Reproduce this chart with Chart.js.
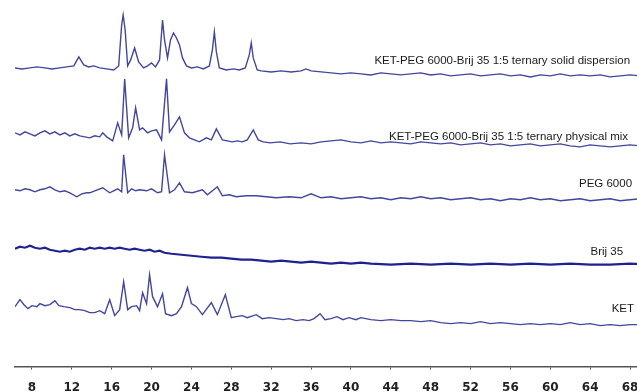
<!DOCTYPE html>
<html>
<head>
<meta charset="utf-8">
<script src="https://cdn.jsdelivr.net/npm/chart.js@4"></script>
<style>
  html, body { margin: 0; padding: 0; background: #fff; overflow: hidden; }
  #wrap { width: 637px; height: 392px; overflow: hidden; position: relative; }
  #box { width: 660px; height: 406px; position: absolute; left: 0; top: 0; }
</style>
</head>
<body>
<div id="wrap"><div id="box"><canvas id="xrd"></canvas></div></div>
<script>
// 2-theta tick labels
const xTicks = [8, 12, 16, 20, 24, 28, 32, 36, 40, 44, 48, 52, 56, 60, 64, 68];

const traceNames = [
    "KET-PEG 6000-Brij 35 1:5 ternary solid dispersion",
    "KET-PEG 6000-Brij 35 1:5 ternary physical mix",
    "PEG 6000",
    "Brij 35",
    "KET",
];

// vertical stacking offset of each pattern
const offsets = [299, 233, 177, 118, 60];

// [2theta, intensity above baseline]
const solidDispersion = [
    [6.3, 0], [7.0, -1], [7.8, 0], [8.5, 1], [9.3, 0], [10.0, -1], [10.8, 0], [11.5, 1], [12.2, 2], [12.7, 11],
    [13.2, 3], [13.7, 1], [14.2, 2], [14.8, 0], [15.5, -1], [16.2, -2], [16.7, 2], [17.0, 43], [17.15, 53], [17.35, 38],
    [17.6, 2], [17.9, 8], [18.3, 20], [18.7, 6], [19.2, 0], [19.6, 2], [20.0, 5], [20.4, 1], [20.8, 8], [21.1, 48],
    [21.3, 28], [21.6, 10], [21.9, 28], [22.2, 35], [22.5, 30], [22.8, 23], [23.1, 10], [23.5, 2], [24.0, 0], [24.6, 1],
    [25.2, -1], [25.8, 2], [26.1, 18], [26.3, 36], [26.5, 16], [26.8, 0], [27.5, -2], [28.2, -1], [28.8, -2], [29.4, 0],
    [29.8, 13], [30.0, 25], [30.2, 10], [30.6, -2], [31.0, -3], [32, -4], [33, -3], [34, -4], [35, -3], [35.5, -1],
    [36, -3], [37, -4], [38, -5], [39, -6], [40, -5], [41, -6], [42, -7], [43, -5], [44, -6], [45, -7],
    [46, -6], [47, -5], [48, -7], [49, -6], [50, -8], [51, -7], [52, -6], [53, -8], [54, -7], [55, -6],
    [56, -8], [57, -7], [58, -9], [59, -7], [60, -8], [61, -6], [62, -8], [63, -7], [64, -8], [65, -7],
    [66, -9], [67, -8], [68, -7], [69, -8], [70, -8],
];

const physicalMix = [
    [6.3, 1], [6.8, -1], [7.3, 2], [7.8, 0], [8.3, -2], [8.8, 1], [9.3, 3], [9.8, 0], [10.3, 2], [10.8, -1],
    [11.3, 1], [11.8, -2], [12.3, 0], [12.8, -2], [13.3, -3], [13.8, -4], [14.3, -2], [14.8, -3], [15.1, 1], [15.5, -3],
    [16.1, -7], [16.6, 11], [17.0, -1], [17.3, 55], [17.7, -4], [18.1, 6], [18.4, 26], [18.8, 4], [19.1, 6], [19.6, 1],
    [20.0, 3], [20.5, 4], [21.0, -6], [21.5, 55], [21.8, 2], [22.3, 9], [22.8, 17], [23.3, 1], [23.8, -4], [24.3, -6],
    [24.8, -8], [25.5, -4], [26.0, -6], [26.5, 5], [27.1, -6], [27.6, -7], [28.1, -8], [28.6, -7], [29.1, -8], [29.6, -6],
    [30.2, 4], [30.7, -6], [31.2, -8], [31.9, -9], [32.9, -8], [33.9, -10], [35, -9], [36, -10], [37, -8], [38, -7],
    [39, -6], [40, -8], [41, -9], [42, -7], [43, -9], [44, -8], [45, -9], [46, -10], [47, -8], [48, -9],
    [49, -10], [50, -9], [51, -11], [52, -10], [53, -9], [54, -11], [55, -10], [56, -12], [57, -11], [58, -10],
    [59, -12], [60, -11], [61, -10], [62, -12], [63, -13], [64, -11], [65, -12], [66, -13], [67, -12], [68, -11],
    [69, -12], [70, -12],
];

const peg6000 = [
    [6.3, 0], [6.8, -1], [7.3, 1], [7.8, 0], [8.3, -2], [8.8, 0], [9.3, 1], [9.8, 3], [10.3, 0], [10.8, -2],
    [11.3, -1], [11.8, -3], [12.5, -7], [13.0, -4], [13.5, -3], [13.8, -3], [14.3, -1], [15.1, 2], [15.8, -3], [16.2, -1],
    [16.6, 1], [17.0, -2], [17.2, 35], [17.6, -3], [18.0, 1], [18.4, -1], [18.8, 0], [19.5, -1], [20.0, 1], [20.6, -3],
    [21.0, -2], [21.3, 35], [21.8, -3], [22.3, 0], [22.8, 7], [23.3, -2], [24.1, -3], [25.1, 0], [25.6, -5], [26.6, 3],
    [27.1, -6], [27.8, -5], [28.5, -7], [29.5, -6], [30.5, -6], [31.5, -7], [32.5, -8], [33.8, -7], [35, -8], [36, -4],
    [37, -8], [38, -7], [39, -9], [40, -8], [41, -7], [42, -9], [43, -8], [44, -10], [45, -8], [46, -9],
    [47, -7], [48, -9], [49, -8], [50, -10], [51, -9], [52, -8], [53, -10], [54, -9], [55, -11], [56, -9],
    [57, -10], [58, -8], [59, -10], [60, -9], [61, -11], [62, -10], [63, -9], [64, -11], [65, -10], [66, -9],
    [67, -11], [68, -10], [69, -9], [70, -10],
];

const brij35 = [
    [6.3, 0], [6.8, 2], [7.3, 1], [7.8, 3], [8.3, 1], [8.8, 0], [9.3, 1], [9.8, -1], [10.3, -2], [10.8, -3],
    [11.3, -2], [11.8, -3], [12.3, -1], [12.8, 0], [13.3, -1], [13.8, 1], [14.3, 0], [14.8, 1], [15.3, 0], [15.8, 1],
    [16.3, 0], [16.8, 1], [17.3, 0], [17.8, -1], [18.3, 0], [18.8, -1], [19.3, -2], [19.8, -1], [20.3, -3], [20.8, -2],
    [21.3, -4], [22, -5], [23, -6], [24, -7], [25, -8], [26, -9], [27, -9], [28, -10], [29, -11], [30, -11],
    [31, -12], [32, -13], [33, -12], [34, -13], [35, -14], [36, -13], [37, -14], [38, -15], [39, -14], [40, -15],
    [41, -14], [42, -15], [44, -16], [46, -15], [48, -16], [50, -15], [52, -16], [54, -15], [56, -16], [58, -15],
    [60, -16], [62, -15], [64, -16], [66, -16], [68, -15], [70, -16],
];

const ket = [
    [6.3, 0], [6.8, 7], [7.2, 2], [7.6, -2], [8.0, 1], [8.5, 0], [8.8, 3], [9.3, 1], [9.8, 2], [10.3, 6],
    [10.7, 1], [11.2, 0], [11.8, -1], [12.3, -3], [12.8, -3], [13.3, -4], [13.8, -6], [14.3, -6], [14.8, -4], [15.3, -7],
    [15.8, 7], [16.3, -9], [16.8, -3], [17.2, 25], [17.6, -3], [18.0, 0], [18.5, 1], [18.8, -4], [19.1, 14], [19.5, 3],
    [19.8, 32], [20.1, 10], [20.6, 0], [21.1, 13], [21.4, -7], [22.0, -9], [22.5, -7], [23.0, 0], [23.6, 19], [24.0, 3],
    [24.5, 0], [25.1, -8], [26.0, 4], [26.6, -8], [27.4, 12], [28.0, -11], [28.5, -10], [29.1, -9], [29.6, -11], [30.5, -8],
    [31.1, -12], [31.8, -11], [32.5, -12], [33.2, -13], [33.8, -12], [34.5, -14], [35.2, -13], [35.8, -14], [36.3, -12], [36.9, -7],
    [37.4, -13], [38.0, -12], [38.6, -10], [39.2, -13], [39.8, -11], [40.5, -13], [41.0, -11], [42, -13], [43, -14], [44, -13],
    [45, -14], [46, -14], [47, -15], [48, -14], [49, -16], [50, -17], [51, -16], [52, -17], [53, -15], [54, -17],
    [55, -16], [56, -17], [57, -18], [58, -17], [59, -18], [60, -17], [61, -18], [62, -16], [63, -18], [64, -17],
    [65, -19], [66, -18], [67, -19], [68, -18], [69, -18], [70, -19],
];

const patterns = [solidDispersion, physicalMix, peg6000, brij35, ket];

// trace captions: right edge (2theta) and height on the y scale
const captionPos = [
    { x: 68.0, y: 306.5 },
    { x: 67.8, y: 230 },
    { x: 68.2, y: 183 },
    { x: 67.3, y: 114.5 },
    { x: 68.4, y: 58 },
];

const datasets = patterns.map((pat, i) => ({
    label: traceNames[i],
    data: pat.map((p) => ({ x: p[0], y: p[1] + offsets[i] })),
    borderColor: i === 3 ? "#1d2290" : "#42469c",
    borderWidth: i === 3 ? 2.2 : 1.4,
    pointRadius: 0,
    tension: 0,
    fill: false,
}));

const captionPlugin = {
    id: "captions",
    afterDatasetsDraw(chart) {
        const { ctx, scales } = chart;
        ctx.save();
        ctx.font = "11.5px 'Liberation Sans', Arial, sans-serif";
        ctx.fillStyle = "#1a1a1a";
        ctx.textAlign = "right";
        ctx.textBaseline = "middle";
        traceNames.forEach((name, i) => {
            ctx.fillText(
                name,
                scales.x.getPixelForValue(captionPos[i].x),
                scales.y.getPixelForValue(captionPos[i].y)
            );
        });
        ctx.restore();
    },
};

new Chart(document.getElementById("xrd"), {
    type: "line",
    data: { datasets },
    options: {
        responsive: true,
        maintainAspectRatio: false,
        animation: false,
        layout: { padding: { left: 15, right: 10, top: 0, bottom: 0 } },
        plugins: {
            legend: { display: false },
            tooltip: { enabled: false },
        },
        scales: {
            x: {
                type: "linear",
                min: 6.3,
                max: 70,
                afterBuildTicks: (scale) => {
                    scale.ticks = xTicks.map((v) => ({ value: v }));
                },
                grid: {
                    drawOnChartArea: false,
                    drawTicks: true,
                    tickLength: 3,
                    color: "#555",
                },
                border: { color: "#555", width: 1.5 },
                ticks: {
                    padding: 11,
                    color: "#222",
                    maxRotation: 0,
                    autoSkip: false,
                    font: { family: "'DejaVu Sans'", size: 12, weight: "bold" },
                },
            },
            y: {
                display: false,
                min: 0,
                max: 367,
            },
        },
    },
    plugins: [captionPlugin],
});
</script>
</body>
</html>
